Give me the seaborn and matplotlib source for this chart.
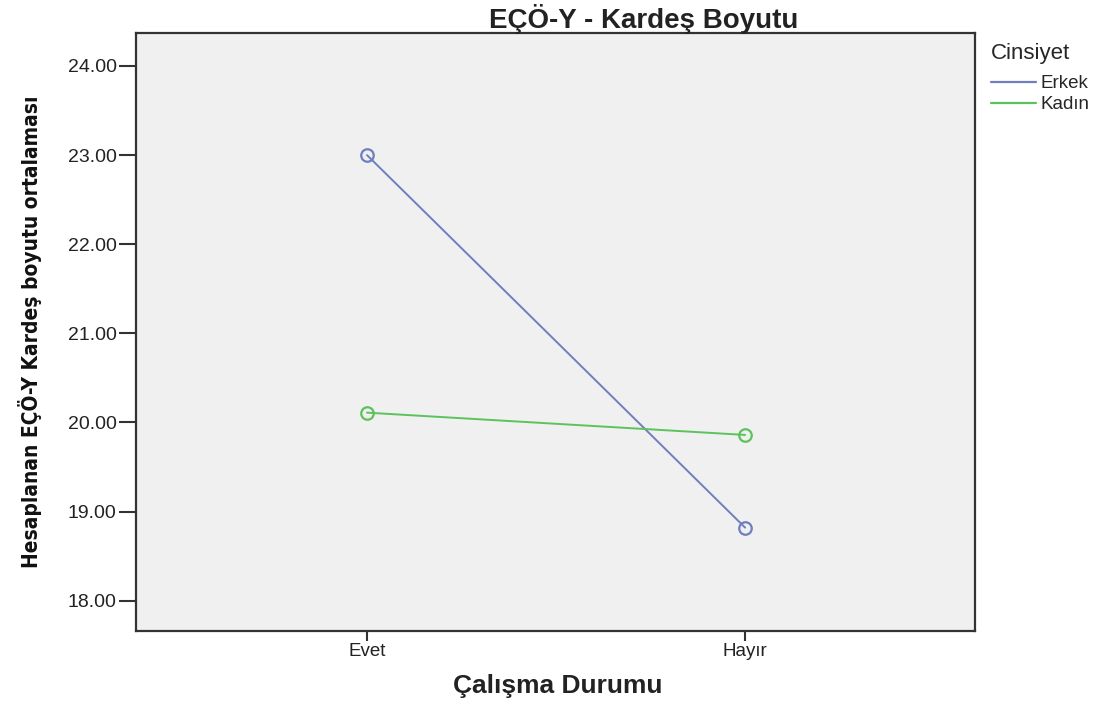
import matplotlib
matplotlib.use("Agg")
import matplotlib.pyplot as plt
from matplotlib.lines import Line2D
from matplotlib import font_manager as fm
import seaborn as sns
import pandas as pd

categories = ["Evet", "Hayır"]
groups = ["Erkek", "Kadın"]
erkek = [23.00, 18.82]
kadin = [20.11, 19.86]
yticks = [18, 19, 20, 21, 22, 23, 24]
colors = {"Erkek": "#6e7fc0", "Kadın": "#5cc25c"}

df = pd.DataFrame({
    "Çalışma Durumu": categories * 2,
    "Cinsiyet": ["Erkek"] * 2 + ["Kadın"] * 2,
    "value": erkek + kadin,
})

sns.set_style("white")
plt.rcParams['font.family'] = ['Liberation Sans', 'DejaVu Sans']

# condensed font for the rotated y label if available
cond = [f for f in fm.fontManager.ttflist
        if f.name == "DejaVu Sans" and str(f.stretch) in ("condensed", "semi-condensed")]
if cond:
    ylab_fp = fm.FontProperties(family="DejaVu Sans", weight="bold", stretch="condensed", size=15)
else:
    ylab_fp = fm.FontProperties(family=["Liberation Sans", "DejaVu Sans"], weight="bold", size=14.5)

fig = plt.figure(figsize=(11, 7.04), dpi=100)
ax = fig.add_axes([136/1100, 1 - 631/704, (975-136)/1100, (631-33)/704])
ax.set_facecolor("#f0f0f0")

sns.pointplot(data=df, x="Çalışma Durumu", y="value", hue="Cinsiyet",
              order=categories, hue_order=groups, palette=colors,
              markers="o", linestyles="-", errorbar=None, ax=ax,
              markerfacecolor="none", markersize=9, markeredgewidth=1.6,
              linewidth=1.4, legend=False)

ax.set_xlim(-0.611, 1.608)
ax.set_ylim(17.66, 24.37)
ax.set_yticks(yticks)
ax.set_yticklabels([f"{v:.2f}" for v in yticks], fontsize=14, color="#222222")
ax.set_xticks([0, 1])
ax.set_xticklabels(categories, fontsize=13.5, color="#222222")
ax.tick_params(axis="y", length=12, width=1.5, color="#333333", direction="out",
               left=True, pad=2)
ax.tick_params(axis="x", length=7, width=1.5, color="#333333", direction="out",
               bottom=True, pad=2)
for s in ax.spines.values():
    s.set_color("#333333")
    s.set_linewidth(1.6)
ax.set_xlabel("")
ax.set_ylabel("")

fig.text(644/1100, 1 - 19/704, "EÇÖ-Y - Kardeş Boyutu", ha="center", va="center",
         fontsize=20, fontweight="bold", color="#222222")
fig.text(558/1100, 1 - 686/704, "Çalışma Durumu", ha="center", va="center",
         fontsize=19, fontweight="bold", color="#222222")
fig.text(30/1100, 1 - 332/704, "Hesaplanan EÇÖ-Y Kardeş boyutu ortalaması",
         ha="center", va="center", rotation=90, fontproperties=ylab_fp, color="#111111")

handles = [Line2D([], [], color=colors[g], lw=1.6) for g in groups]
leg = fig.legend(handles, groups, title="Cinsiyet", loc="upper left",
                 bbox_to_anchor=(978/1100, 1 - 30/704), frameon=False,
                 fontsize=13.5, title_fontsize=16, handlelength=2.4,
                 handletextpad=0.25, labelspacing=0.2, alignment="left",
                 borderpad=0.2)
leg._legend_box.sep = 8

fig.savefig("out.png", dpi=100)
